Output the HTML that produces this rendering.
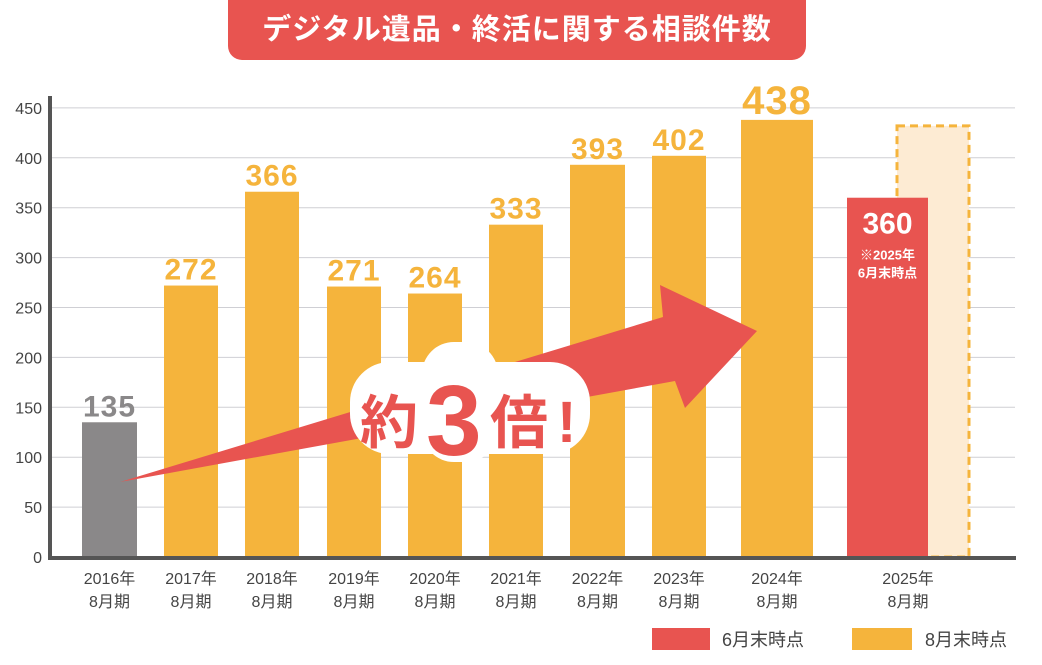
<!DOCTYPE html>
<html><head><meta charset="utf-8"><style>
html,body{margin:0;padding:0;background:#fff;}
body{width:1042px;height:660px;overflow:hidden;font-family:"Liberation Sans","Noto Sans CJK JP",sans-serif;}
svg text{font-family:"Liberation Sans","Noto Sans CJK JP",sans-serif;}
</style></head><body>
<svg id="chart" width="1042" height="660" viewBox="0 0 1042 660">
<g id="grid"></g>
<g id="bars"></g>
<g id="labels"></g>
<rect x="228" y="-20" width="578" height="80" rx="14" fill="#e85450"/>
<text x="517" y="39" text-anchor="middle" font-size="29" font-weight="bold" letter-spacing="1" fill="#fff">デジタル遺品・終活に関する相談件数</text>
<polygon points="120,482 663,317 660,285 757,331 685,408 675,381" fill="#e85450"/>
<g>
<rect x="350" y="362" width="240" height="92" rx="40" fill="#fff"/>
<rect x="422" y="342" width="76" height="120" rx="32" fill="#fff"/>
<text x="360" y="443" font-size="58" font-weight="bold" fill="#e85450">約</text>
<text x="426" y="455" font-size="100" font-weight="bold" fill="#e85450">3</text>
<text x="490" y="443" font-size="58" font-weight="bold" fill="#e85450">倍</text>
<text x="557" y="442" font-size="58" font-weight="bold" fill="#e85450">!</text>
</g>
<g>
<rect x="652" y="628" width="58" height="22" fill="#e85450"/>
<text x="722" y="646" font-size="18" fill="#444">6月末時点</text>
<rect x="852" y="628" width="60" height="22" fill="#f5b43c"/>
<text x="925" y="646" font-size="18" fill="#444">8月末時点</text>
</g>
</svg>
<script>
const years=["2016年","2017年","2018年","2019年","2020年","2021年","2022年","2023年","2024年","2025年"];
const values=[135,272,366,271,264,333,393,402,438,360];
const projected=[432];
const yTicks=[0,50,100,150,200,250,300,350,400,450];
const barX=[82,164,245,327,408,489,570,652,741,847];
const barW=[55,54,54,54,54,54,55,54,72,81];
const ns="http://www.w3.org/2000/svg";
const y0=557, scale=0.998;
function yPos(v){return y0-v*scale;}
function mk(t,a,p){const e=document.createElementNS(ns,t);for(const k in a)e.setAttribute(k,a[k]);p.appendChild(e);return e;}
const grid=document.getElementById('grid'),bars=document.getElementById('bars'),labels=document.getElementById('labels');
yTicks.forEach(v=>{
 if(v>0){const l=mk('line',{x1:50,x2:1015,y1:yPos(v),y2:yPos(v),stroke:'#cfcfd4','stroke-width':1},grid);
 
 }
 const t=mk('text',{x:42,y:yPos(v)+6,'text-anchor':'end','font-size':16,fill:'#444'},grid);t.textContent=v;
 
 
});
const pb=mk('rect',{x:897,y:yPos(projected[0]),width:72,height:y0-yPos(projected[0]),fill:'#fdebd3',stroke:'#f5b43c','stroke-width':3,'stroke-dasharray':'8,5'},bars);


values.forEach((v,i)=>{
 const col=i===0?'#8a8889':(i===9?'#e85450':'#f5b43c');
 const r=mk('rect',{x:barX[i],y:yPos(v),width:barW[i],height:y0-yPos(v),fill:col},bars);
 
 
 const cx=barX[i]+barW[i]/2;
 let t;
 if(i===9){
  t=mk('text',{x:cx,y:yPos(v)+36,'text-anchor':'middle','font-size':30,'font-weight':'bold',fill:'#fff'},labels);
  const n1=mk('text',{x:cx,y:yPos(v)+62,'text-anchor':'middle','font-size':13,'font-weight':'bold',fill:'#fff'},labels);n1.textContent='※2025年';
  
  
  const n2=mk('text',{x:cx,y:yPos(v)+80,'text-anchor':'middle','font-size':13,'font-weight':'bold',fill:'#fff'},labels);n2.textContent='6月末時点';
  
  
 } else {
  const fs=i===8?40:30;
  t=mk('text',{x:cx,y:yPos(v)-6,'text-anchor':'middle','font-size':fs,'font-weight':'bold',fill:i===0?'#8a8889':'#f5b43c','letter-spacing':1},labels);
 }
 t.textContent=v;
 
 
 const lx=i===9?908:cx;
 const a=mk('text',{x:lx,y:584,'text-anchor':'middle','font-size':16,fill:'#444'},labels);a.textContent=years[i];
 
 
 const b=mk('text',{x:lx,y:607,'text-anchor':'middle','font-size':16,fill:'#444'},labels);b.textContent='8月期';
 
 
});
const ax=mk('path',{d:'M50 96 V558 H1016',fill:'none',stroke:'#555','stroke-width':4},labels);


</script>
</body></html>
